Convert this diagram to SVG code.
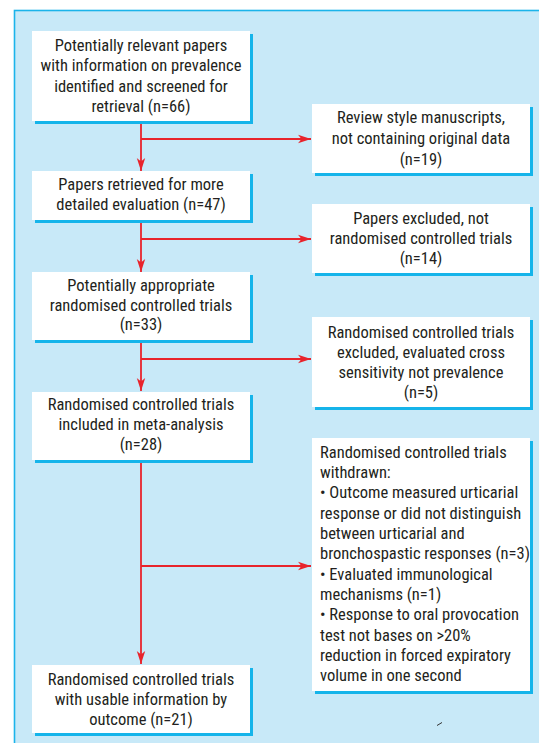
<svg xmlns="http://www.w3.org/2000/svg" width="539" height="743" viewBox="0 0 539 743">
<style>
.bg{fill:#c8e9f8;stroke:#1cb4ea;stroke-width:1.6}
.box{fill:#ffffff}
.sh{fill:#15b4ea}
text{font-family:"Liberation Sans Narrow","Roboto Condensed","Liberation Sans",sans-serif;font-size:16.5px;fill:#231f20}
.c{text-anchor:middle}
.ln{fill:none;stroke:#e8242c;stroke-width:1.8}
</style>
<defs>
<marker id="ah" markerWidth="14" markerHeight="10" refX="13" refY="5" orient="auto" markerUnits="userSpaceOnUse">
<path d="M0,0.8 L13,5 L0,9.2 L3.5,5 Z" fill="#e8242c"/>
</marker>
</defs>
<rect class="bg" x="14.5" y="10.5" width="540" height="750"/>
<g id="n1">
<rect class="sh" x="35" y="34" width="218" height="90"/>
<rect class="box" x="32" y="31" width="218" height="90"/>
<text class="c" x="141" y="51">Potentially relevant papers</text>
<text class="c" x="141" y="71">with information on prevalence</text>
<text class="c" x="141" y="91.5">identified and screened for</text>
<text class="c" x="141" y="112">retrieval (n=66)</text>
</g>
<g id="n2">
<rect class="sh" x="35" y="174" width="218" height="49"/>
<rect class="box" x="32" y="171" width="218" height="49"/>
<text class="c" x="141" y="190">Papers retrieved for more</text>
<text class="c" x="141" y="209.5">detailed evaluation (n=47)</text>
</g>
<g id="n3">
<rect class="sh" x="35" y="275" width="218" height="68"/>
<rect class="box" x="32" y="272" width="218" height="68"/>
<text class="c" x="141" y="291">Potentially appropriate</text>
<text class="c" x="141" y="310.5">randomised controlled trials</text>
<text class="c" x="141" y="330">(n=33)</text>
</g>
<g id="n4">
<rect class="sh" x="35" y="395" width="218" height="68"/>
<rect class="box" x="32" y="392" width="218" height="68"/>
<text class="c" x="141" y="410">Randomised controlled trials</text>
<text class="c" x="141" y="430">included in meta-analysis</text>
<text class="c" x="141" y="450">(n=28)</text>
</g>
<g id="n5">
<rect class="sh" x="35" y="668" width="218" height="68"/>
<rect class="box" x="32" y="665" width="218" height="68"/>
<text class="c" x="141" y="685">Randomised controlled trials</text>
<text class="c" x="141" y="705">with usable information by</text>
<text class="c" x="141" y="725">outcome (n=21)</text>
</g>
<g id="r1">
<rect class="sh" x="315" y="107" width="218" height="69"/>
<rect class="box" x="312" y="104" width="218" height="69"/>
<text class="c" x="421" y="123">Review style manuscripts,</text>
<text class="c" x="421" y="144">not containing original data</text>
<text class="c" x="421" y="165">(n=19)</text>
</g>
<g id="r2">
<rect class="sh" x="315" y="207" width="218" height="69"/>
<rect class="box" x="312" y="204" width="218" height="69"/>
<text class="c" x="421" y="224">Papers excluded, not</text>
<text class="c" x="421" y="244">randomised controlled trials</text>
<text class="c" x="421" y="264">(n=14)</text>
</g>
<g id="r3">
<rect class="sh" x="315" y="320" width="218" height="90"/>
<rect class="box" x="312" y="317" width="218" height="90"/>
<text class="c" x="421" y="338">Randomised controlled trials</text>
<text class="c" x="421" y="358">excluded, evaluated cross</text>
<text class="c" x="421" y="378">sensitivity not prevalence</text>
<text class="c" x="421" y="398">(n=5)</text>
</g>
<g id="r4">
<rect class="sh" x="315" y="441" width="218" height="253"/>
<rect class="box" x="312" y="438" width="218" height="253"/>
<text x="320" y="458">Randomised controlled trials</text>
<text x="320" y="478">withdrawn:</text>
<text x="320" y="498">• Outcome measured urticarial</text>
<text x="320" y="518.5">response or did not distinguish</text>
<text x="320" y="539">between urticarial and</text>
<text x="320" y="559">bronchospastic responses (n=3)</text>
<text x="320" y="579.5">• Evaluated immunological</text>
<text x="320" y="600">mechanisms (n=1)</text>
<text x="320" y="620">• Response to oral provocation</text>
<text x="320" y="640.5">test not bases on &gt;20%</text>
<text x="320" y="660.5">reduction in forced expiratory</text>
<text x="320" y="681">volume in one second</text>
</g>
<g id="connectors">
<path class="ln" d="M141,124 V171" marker-end="url(#ah)"/>
<path class="ln" d="M141,139 H311" marker-end="url(#ah)"/>
<path class="ln" d="M141,223 V272" marker-end="url(#ah)"/>
<path class="ln" d="M141,239 H311" marker-end="url(#ah)"/>
<path class="ln" d="M141,343 V391" marker-end="url(#ah)"/>
<path class="ln" d="M141,359 H311" marker-end="url(#ah)"/>
<path class="ln" d="M141,463 V664" marker-end="url(#ah)"/>
<path class="ln" d="M141,566 H311" marker-end="url(#ah)"/>
</g>
<path d="M437,725.5 L442,722.5" stroke="#333" stroke-width="1"/>
</svg>
